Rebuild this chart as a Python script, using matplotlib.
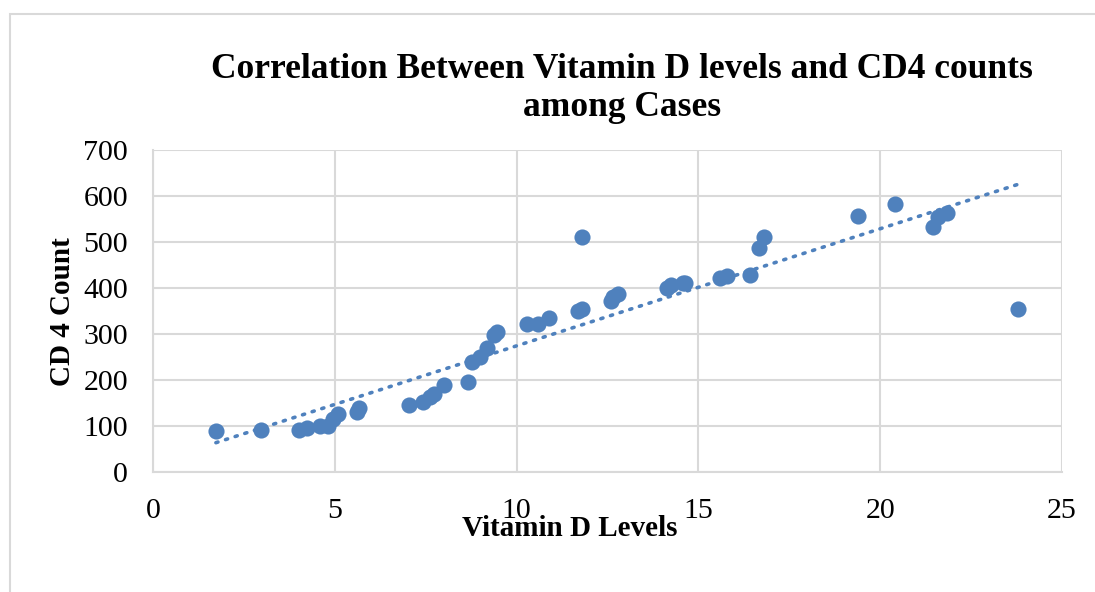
import numpy as np
import matplotlib
matplotlib.use("Agg")
import matplotlib.pyplot as plt
from matplotlib.patches import Rectangle

# Vitamin D level vs CD4 count
vitamin_d = [1.73, 2.97, 4.02, 4.23, 4.59, 4.80, 4.94, 5.10, 5.62, 5.67,
             7.04, 7.42, 7.62, 7.73, 8.00, 8.66, 8.76, 8.99, 9.19, 9.38,
             9.45, 10.28, 10.60, 10.90, 11.70, 11.79, 11.79, 12.60, 12.66, 12.80,
             14.13, 14.26, 14.57, 14.63, 15.59, 15.78, 16.42, 16.68, 16.80, 19.38,
             20.41, 21.46, 21.60, 21.83, 23.80]
cd4_count = [89, 91, 91, 95, 100, 101, 115, 127, 131, 140,
             145, 152, 164, 169, 189, 196, 239, 250, 269, 297,
             304, 322, 322, 334, 350, 354, 510, 372, 381, 387,
             399, 406, 410, 411, 421, 426, 428, 486, 510, 557,
             582, 533, 555, 562, 355]

x_ticks = [0, 5, 10, 15, 20, 25]
y_ticks = [0, 100, 200, 300, 400, 500, 600, 700]

plt.rcParams["font.family"] = ["Liberation Serif", "DejaVu Serif"]

fig = plt.figure(figsize=(10.95, 5.92), dpi=100)
fig.patches.append(Rectangle((10/1095, -0.01), 1.0, 1 - 14/592 + 0.01,
                             transform=fig.transFigure, fill=False,
                             edgecolor="#d9d9d9", linewidth=1.5))
ax = fig.add_axes([153/1095, 1 - 472/592, (1062 - 153)/1095, (472 - 150)/592])

blue = "#4F81BD"
ax.scatter(vitamin_d, cd4_count, s=135, color=blue, zorder=3, linewidths=0)

# linear trend line
xs = np.array(vitamin_d)
m, b = np.polyfit(xs, np.array(cd4_count), 1)
tx = np.array([xs.min(), xs.max()])
ax.plot(tx, m * tx + b, color=blue, linestyle=(0, (0.6, 2.2)), linewidth=2.6,
        dash_capstyle="round", zorder=2)

ax.set_xlim(0, 25)
ax.set_ylim(0, 700)
ax.set_xticks(x_ticks)
ax.set_yticks(y_ticks)
ax.tick_params(length=0, labelsize=21.5, colors="black")
ax.tick_params(axis="x", pad=19)
ax.tick_params(axis="y", pad=18)
ax.grid(True, color="#d9d9d9", linewidth=1.5)
ax.set_axisbelow(True)
for side in ["top", "right"]:
    ax.spines[side].set_visible(False)
for side in ["left", "bottom"]:
    ax.spines[side].set_color("#d9d9d9")
    ax.spines[side].set_linewidth(1.5)

fig.text(622/1095, 1 - 88/592, "Correlation Between Vitamin D levels and CD4 counts\namong Cases",
         ha="center", va="center", fontsize=25.5, fontweight="bold", linespacing=1.2)
fig.text(570/1095, 1 - 528/592, "Vitamin D Levels", ha="center", va="center",
         fontsize=21, fontweight="bold")
fig.text(62/1095, 1 - 312/592, "CD 4 Count", ha="center", va="center",
         fontsize=21, fontweight="bold", rotation=90)

fig.savefig("out.png", dpi=100)
